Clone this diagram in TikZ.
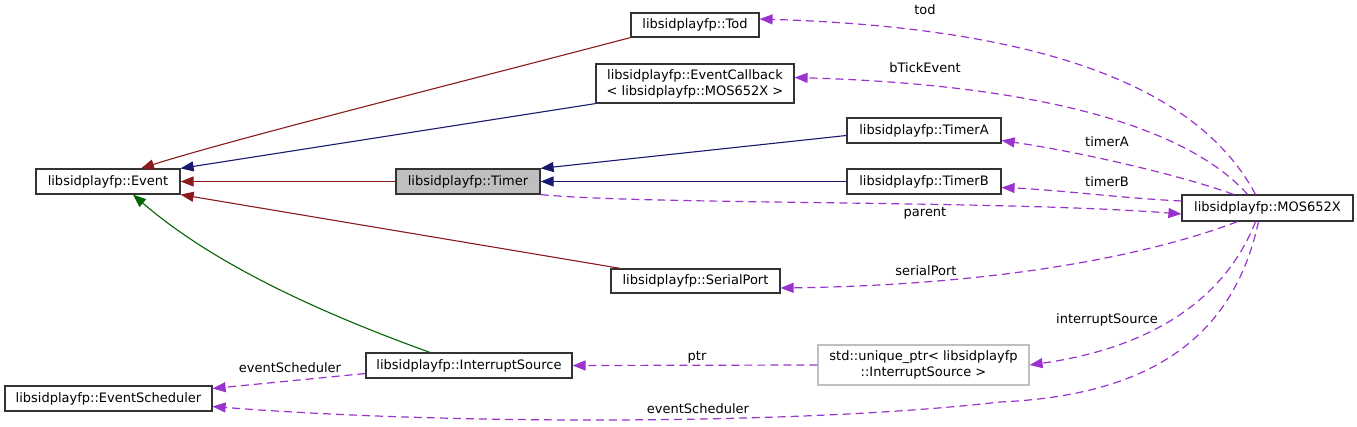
\documentclass[tikz,border=0pt]{standalone}
\usepackage{fontspec}
\setmainfont{DejaVu Sans}
\usepackage{xcolor}
\usepackage{tikz}
\usetikzlibrary{arrows.meta}
\definecolor{privred}{RGB}{139,26,26}
\definecolor{pubblue}{RGB}{25,25,112}
\definecolor{protgreen}{RGB}{0,100,0}
\definecolor{usepurple}{RGB}{154,50,205}
\definecolor{curgray}{RGB}{191,191,191}
\tikzset{
  cls/.style={draw=black!80,line width=1.2pt,align=center,inner sep=0pt,
              minimum height=25pt},
  clscur/.style={cls,fill=curgray},
  clsext/.style={cls,draw=curgray},
  lbl/.style={inner sep=0pt},
  inh/.style={line width=1.1pt,-{Triangle[length=13pt,width=10pt]}},
  privinh/.style={inh,privred},
  pubinh/.style={inh,pubblue},
  protinh/.style={inh,protgreen},
  use/.style={inh,usepurple,line width=1.2pt,dash pattern=on 8pt off 5pt},
}

\begin{document}
\begin{tikzpicture}[x=1pt,y=-1pt,font=\fontsize{13}{16}\selectfont]
\useasboundingbox (0,0) rectangle (1357,427);
\node[cls, minimum width=144] (event) at (108,181.5) {libsidplayfp::Event};
\node[clscur, minimum width=144] (timer) at (468,181.5) {libsidplayfp::Timer};
\node[cls, minimum width=128, minimum height=24] (tod) at (695,25) {libsidplayfp::Tod};
\node[cls, minimum width=198, minimum height=39] (cb) at (695,83.5)
  {libsidplayfp::EventCallback\\< libsidplayfp::MOS652X >};
\node[cls, minimum width=154] (timera) at (924,130.5) {libsidplayfp::TimerA};
\node[cls, minimum width=154] (timerb) at (924,181.5) {libsidplayfp::TimerB};
\node[cls, minimum width=171, minimum height=26] (mos) at (1267.5,208) {libsidplayfp::MOS652X};
\node[cls, minimum width=169, minimum height=24] (serial) at (695.5,281) {libsidplayfp::SerialPort};
\node[cls, minimum width=206] (isrc) at (469,365.5) {libsidplayfp::InterruptSource};
\node[clsext, minimum width=211, minimum height=40] (uptr) at (923.5,365)
  {std::unique\_ptr< libsidplayfp\\::InterruptSource >};
\node[cls, minimum width=207] (sched) at (108.5,398.5) {libsidplayfp::EventScheduler};

\draw[privinh] (tod.south west) .. controls (450,85) and (230,140) .. ([xshift=33pt]event.north);
\draw[pubinh] (cb.south west) -- (event.north east);
\draw[privinh] (timer.west) -- (event.east);
\draw[privinh] ([xshift=10pt]serial.north west) -- (event.south east);
\draw[protinh] ([xshift=-39pt]isrc.north) .. controls (340,320) and (220,270) .. ([xshift=25pt]event.south);
\draw[pubinh] ([yshift=-5pt]timera.west) -- (timer.north east);
\draw[pubinh] (timerb.west) -- (timer.east);

\draw[use] ([xshift=-12pt]mos.north) .. controls (1200,90) and (1050,28) .. ([yshift=6pt]tod.east);
\draw[use] ([xshift=-20pt]mos.north) .. controls (1190,130) and (1050,85) .. ([yshift=6pt]cb.east);
\draw[use] ([xshift=-34pt]mos.north) .. controls (1180,175) and (1080,152) .. ([yshift=-10pt]timera.east);
\draw[use] ([yshift=7pt]mos.west) .. controls (1120,198) and (1060,190) .. ([yshift=-6pt]timerb.east);
\draw[use] (timer.south east) .. controls (650,205) and (1000,200) .. ([yshift=-6pt]mos.west);
\draw[use] ([xshift=-30pt]mos.south) .. controls (1150,255) and (1000,285) .. ([yshift=-7pt]serial.east);
\draw[use] ([xshift=-12pt]mos.south) .. controls (1225,300) and (1150,348) .. (uptr.east);
\draw[use] ([xshift=-9pt]mos.south) .. controls (1235,330) and (1160,395) .. (1000,402)
  .. controls (800,425) and (450,425) .. ([yshift=-8pt]sched.east);
\draw[use] (uptr.west) -- (isrc.east);
\draw[use] ([yshift=-8pt]isrc.west) -- ([yshift=10pt]sched.east);

\node[lbl] (ltod) at (925,10) {tod};
\node[lbl] (ltick) at (925,68) {bTickEvent};
\node[lbl] (ltimera) at (1107,142) {timerA};
\node[lbl] (ltimerb) at (1107,182) {timerB};
\node[lbl] (lparent) at (925,213) {parent};
\node[lbl] (lserial) at (926,271) {serialPort};
\node[lbl] (lisrc) at (1107,320) {interruptSource};
\node[lbl] (lptr) at (697,357) {ptr};
\node[lbl] (lsched) at (290,368) {eventScheduler};
\node[lbl] (lsched2) at (698,409) {eventScheduler};
\end{tikzpicture}
\end{document}
